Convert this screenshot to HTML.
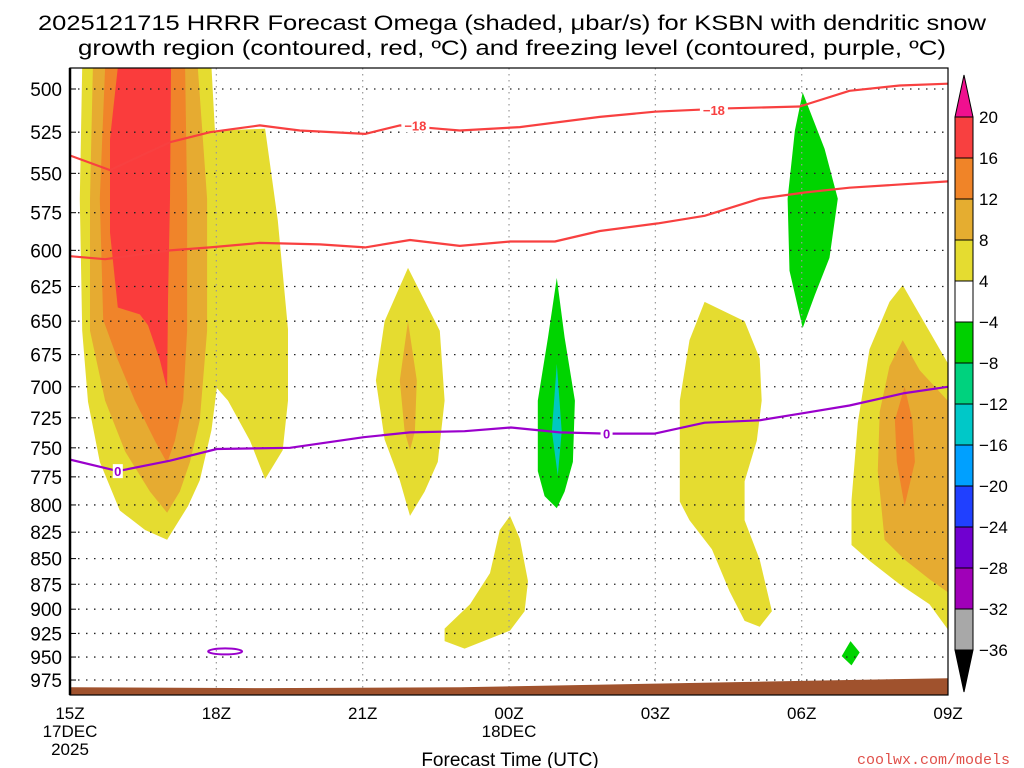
<!DOCTYPE html>
<html><head><meta charset="utf-8"><style>
html,body{margin:0;padding:0;background:#fff;}
svg{display:block;font-family:"Liberation Sans",sans-serif;}
</style></head><body>
<svg id="chart" width="1024" height="768" viewBox="0 0 1024 768" xmlns="http://www.w3.org/2000/svg">
<defs><clipPath id="plotclip"><rect x="70" y="68" width="878" height="627"/></clipPath></defs>
<g>
<text x="512" y="30" text-anchor="middle" font-size="21" textLength="948" lengthAdjust="spacingAndGlyphs">2025121715 HRRR Forecast Omega (shaded, μbar/s) for KSBN with dendritic snow</text>
<text x="512" y="55" text-anchor="middle" font-size="21" textLength="868" lengthAdjust="spacingAndGlyphs">growth region (contoured, red, ºC) and freezing level (contoured, purple, ºC)</text>
</g>
<g id="fills" clip-path="url(#plotclip)"></g>
<g id="grid"></g>
<g id="lines" clip-path="url(#plotclip)"></g>
<g id="axes"></g>
<g id="cbar"></g>
<text x="510" y="766" text-anchor="middle" font-size="19">Forecast Time (UTC)</text>
<text x="1010" y="764" text-anchor="end" font-size="15" fill="#e0504a" font-family="Liberation Mono, monospace">coolwx.com/models</text>
</svg>
<script>
const pressureTicks=[500,525,550,575,600,625,650,675,700,725,750,775,800,825,850,875,900,925,950,975];
const timeTicks=[0,3,6,9,12,15,18];
const timeLabels=["15Z","18Z","21Z","00Z","03Z","06Z","09Z"];
const cbarLevels=["20","16","12","8","4","\u22124","\u22128","\u221212","\u221216","\u221220","\u221224","\u221228","\u221232","\u221236"];
const cbarColors=["#f84040","#f08428","#e5ad30","#e5dc30","#ffffff","#00d000","#00d27e","#00c8c8","#00a0ff","#2040ff","#7000d0","#a000b8","#a8a8a8"];
// shaded contours: [forecast hour, hPa]
const yellowA=[[.25,488],[2.9,488],[2.97,524],[4.0,523],[4.26,580],[4.47,656],[4.47,711],[4.36,752],[4.0,777],[3.69,744],[3.24,711],[3.01,701],[2.9,735],[2.66,778],[2.42,801],[1.99,832],[1.54,823],[1.02,805],[.61,762],[.37,712],[.25,657],[.2,566]];
const goldA=[[.47,488],[2.62,488],[2.81,566],[2.81,657],[2.66,727],[2.46,762],[2.25,788],[1.99,807],[1.64,788],[1.13,753],[.72,711],[.41,657],[.41,566]];
const orangeA=[[.72,488],[2.36,488],[2.4,566],[2.4,657],[2.32,711],[2.15,744],[1.99,763],[1.74,744],[1.33,711],[.98,679],[.68,649],[.61,566]];
const redA=[[.98,488],[2.07,488],[2.05,566],[2.01,635],[1.99,702],[1.84,679],[1.6,653],[1.43,645],[.98,640],[.82,588],[.82,529]];
const yellowB=[[6.93,612],[7.58,657],[7.68,711],[7.54,762],[7.27,788],[6.97,810],[6.76,778],[6.45,743],[6.27,695],[6.45,650]];
const goldB=[[6.93,650],[7.11,695],[7.07,736],[6.97,752],[6.86,736],[6.76,695]];
const yellowC=[[9.02,810],[9.22,831],[9.39,872],[9.32,902],[9.02,922],[8.09,941],[7.68,933],[7.68,920],[8.2,895],[8.61,864],[8.81,823]];
const greenA=[[9.98,619],[10.14,662],[10.35,711],[10.31,762],[10.14,788],[9.98,803],[9.73,792],[9.59,770],[9.59,711],[9.8,662]];
const tealA=[[9.98,682],[10.08,736],[10.0,774],[9.88,736]];
const yellowD=[[13.01,636],[13.83,650],[14.14,678],[14.18,711],[14.08,744],[13.83,779],[13.83,814],[14.14,851],[14.39,902],[14.14,918],[13.83,912],[13.52,882],[13.16,841],[12.7,814],[12.5,797],[12.5,711],[12.7,664]];
const greenB=[[15.02,502],[15.47,535],[15.74,566],[15.57,605],[15.27,631],[15.02,655],[14.75,614],[14.71,566],[14.86,524]];
const yellowE=[[17.07,624],[18.2,695],[18.2,935],[17.62,895],[17.01,875],[16.39,852],[16.02,837],[16.02,796],[16.15,729],[16.39,671],[16.8,636]];
const goldE=[[17.07,664],[17.42,687],[18.2,720],[18.2,890],[17.62,870],[17.11,851],[16.7,832],[16.56,770],[16.6,720],[16.8,684]];
const orangeE=[[17.11,700],[17.27,727],[17.32,762],[17.11,801],[16.95,762],[16.91,727]];
const greenF=[[16,933],[16.19,945],[16.02,959],[15.82,949]];
// contour lines
const dgzTopHours=[0,.82,2.05,2.87,3.89,4.71,6.05,6.76,7.58,7.99,9.22,10.86,11.99,13.52,14.96,15.98,17.01,18];
const dgzTopP=[539,548,531,525,521,524,526,521,523,524,522,516,513,511,510,501,498,497];
const dgzBotHours=[0,.72,2.05,2.87,3.89,5.12,6.05,6.97,7.99,9.02,9.94,10.86,12.05,13.01,14.14,15.06,15.98,18];
const dgzBotP=[604,606,600,598,595,596,598,593,597,594,594,587,582,577,566,562,559,555];
const frzHours=[0,.98,2.05,3.01,4.51,6.02,6.97,8.09,9.04,10.04,11.0,11.99,13.01,14.14,15.06,15.98,17.11,18];
const frzP=[760,770,761,751,750,741,737,736,733,737,738,738,729,727,721,715,705,700];
const groundHours=[0,4,8,12,15,18];
const groundP=[983,984,983,979,976,973];

(function(){
const NS="http://www.w3.org/2000/svg";
const X=h=>70+48.78*h;
const Y=p=>89+885*Math.log(p/500);
function mk(tag,attrs,parent){const e=document.createElementNS(NS,tag);for(const k in attrs)e.setAttribute(k,attrs[k]);parent.appendChild(e);return e;}
const fills=document.getElementById('fills');
function poly(pts,color,name){const e=mk('polygon',{points:pts.map(q=>X(q[0]).toFixed(1)+','+Y(q[1]).toFixed(1)).join(' '),fill:color},fills);

}
poly(yellowA,'#e5dc30','omega-4-8-plume-a');poly(goldA,'#e6ab31','omega-8-12-plume-a');poly(orangeA,'#f0842a','omega-12-16-plume-a');poly(redA,'#fa3c3c','omega-16-20-plume-a');
poly(yellowB,'#e5dc30','omega-4-8-plume-b');poly(goldB,'#e6ab31','omega-8-12-plume-b');
poly(yellowC,'#e5dc30','omega-4-8-plume-c');
poly(greenA,'#00d400','omega-neg-4-8-area-a');poly(tealA,'#00c8c0','omega-neg-12-16-area-a');
poly(yellowD,'#e5dc30','omega-4-8-plume-d');
poly(greenB,'#00d400','omega-neg-4-8-area-b');
poly(yellowE,'#e5dc30','omega-4-8-plume-e');poly(goldE,'#e6ab31','omega-8-12-plume-e');poly(orangeE,'#f0842a','omega-12-16-plume-e');
poly(greenF,'#00d400','omega-neg-4-8-area-f');

const grid=document.getElementById('grid');
pressureTicks.forEach(p=>{const e=mk('line',{x1:70,x2:948,y1:Y(p),y2:Y(p),stroke:'#222','stroke-width':1.3,'stroke-dasharray':'1.5 6.5'},grid);

});
timeTicks.slice(1,-1).forEach(h=>{const e=mk('line',{x1:X(h),x2:X(h),y1:68,y2:695,stroke:'#999','stroke-width':1.2,'stroke-dasharray':'1.5 4.5'},grid);

});

const lines=document.getElementById('lines');
function pl(hs,ps,color,w,name){const e=mk('polyline',{points:hs.map((h,i)=>X(h).toFixed(1)+','+Y(ps[i]).toFixed(1)).join(' '),fill:'none',stroke:color,'stroke-width':w,'stroke-linejoin':'round'},lines);

}
const gpts=groundHours.map((h,i)=>X(h)+','+Y(groundP[i])).join(' ')+' '+X(18.2)+',700 '+X(0)+',700';
const ground=mk('polygon',{points:gpts,fill:'#a0522d'},lines);


pl(dgzTopHours,dgzTopP,'#f84040',2.2,'dgz-minus18-line');
pl(dgzBotHours,dgzBotP,'#f84040',2.2,'dgz-minus12-line');
pl(frzHours,frzP,'#9a00cc',2.2,'freezing-level-line');
const ell=mk('ellipse',{cx:X(3.18),cy:Y(944),rx:17,ry:3,fill:'none',stroke:'#9a00cc','stroke-width':2},lines);


function clab(h,p,t,color,name,hw){const x=X(h),y=Y(p);const r=mk('rect',{x:x-hw,y:y-7,width:2*hw,height:14,fill:'#fff'},lines);


const e=mk('text',{x:x,y:y+5,'text-anchor':'middle','font-size':13,'font-weight':'bold',fill:color},lines);e.textContent=t;

}
clab(7.08,521,'\u221218','#f84040','dgz-label-1',14);
clab(13.2,512,'\u221218','#f84040','dgz-label-2',14);
clab(.98,770,'0','#9a00cc','freezing-label-1',5);
clab(11,738,'0','#9a00cc','freezing-label-2',6);

const axes=document.getElementById('axes');
const frame=mk('rect',{x:70,y:68,width:878,height:627,fill:'none',stroke:'#000','stroke-width':1.2},axes);


const la=mk('line',{x1:70,x2:70,y1:68,y2:695,stroke:'#000','stroke-width':2.5},axes);


pressureTicks.forEach(p=>{const t=mk('text',{x:62,y:Y(p)+7,'text-anchor':'end','font-size':19},axes);t.textContent=p;


const tk=mk('line',{x1:70,x2:76,y1:Y(p),y2:Y(p),stroke:'#000'},axes);

});
timeTicks.forEach((h,i)=>{const t=mk('text',{x:X(h),y:719,'text-anchor':'middle','font-size':17},axes);t.textContent=timeLabels[i];

});
[[0,737,'17DEC'],[0,755,'2025'],[9,737,'18DEC']].forEach(a=>{const t=mk('text',{x:X(a[0]),y:a[1],'text-anchor':'middle','font-size':17},axes);t.textContent=a[2];

});

const cbar=document.getElementById('cbar');
const cy0=117,cstep=41,cx=955,cw=18;
const upArrow=mk('polygon',{points:`${cx},${cy0} ${cx+cw},${cy0} ${cx+cw/2},${cy0-42}`,fill:'#f0108f',stroke:'#000'},cbar);


cbarColors.forEach((c,i)=>{const r=mk('rect',{x:cx,y:cy0+i*cstep,width:cw,height:cstep,fill:c,stroke:'#000','stroke-width':1},cbar);

});
const yb=cy0+cbarColors.length*cstep;
const downArrow=mk('polygon',{points:`${cx},${yb} ${cx+cw},${yb} ${cx+cw/2},${yb+42}`,fill:'#000',stroke:'#000'},cbar);


cbarLevels.forEach((l,i)=>{const t=mk('text',{x:979,y:cy0+i*cstep+6,'font-size':17},cbar);t.textContent=l;

});
})();
</script>
</body></html>
